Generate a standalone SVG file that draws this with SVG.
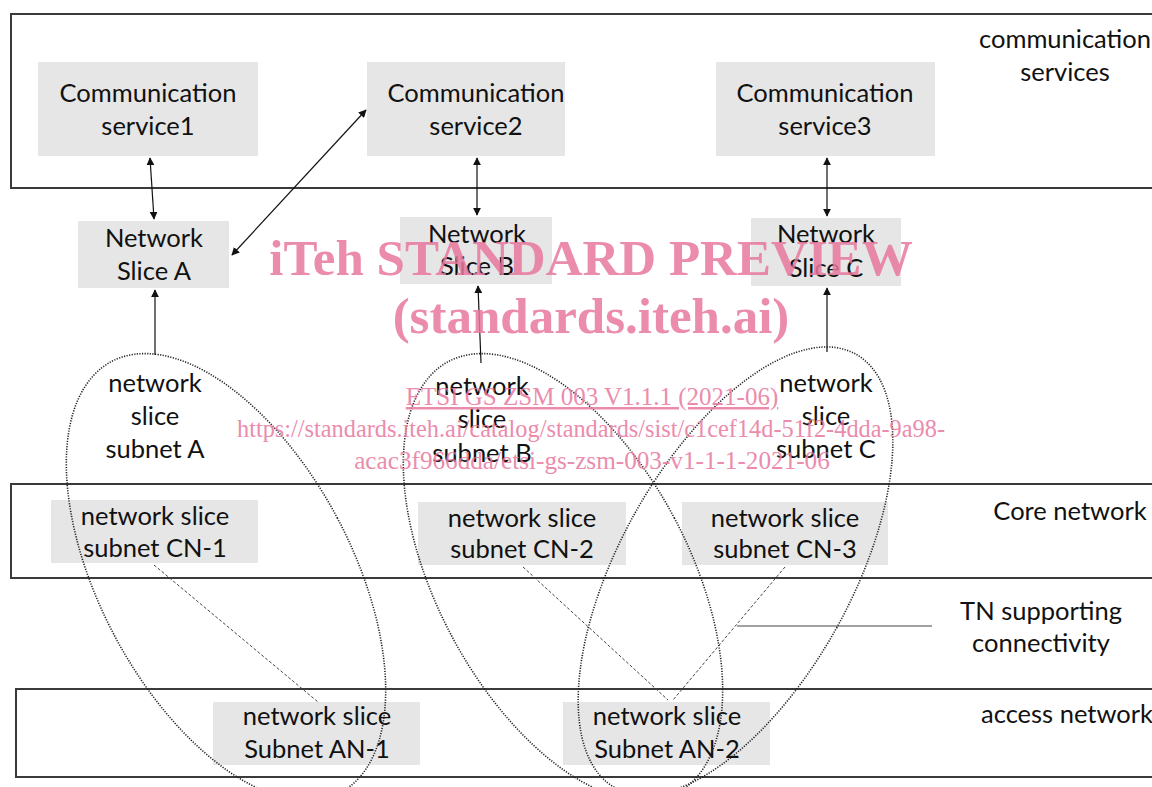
<svg xmlns="http://www.w3.org/2000/svg" width="1152" height="787" viewBox="0 0 1152 787">
<defs>
<marker id="ah" viewBox="0 0 10 10" refX="9" refY="5" markerWidth="8" markerHeight="8" markerUnits="userSpaceOnUse" orient="auto-start-reverse">
<path d="M0,0 L10,5 L0,10 z" fill="#111"/>
</marker>
<style>
.band{fill:none;stroke:#3a3a3a;stroke-width:2}
.box{fill:#e6e6e6}
.t{font-family:Lato,"Open Sans",sans-serif;font-size:25.5px;fill:#111;text-anchor:middle}
.ar{stroke:#111;stroke-width:1.2;fill:none}
.ell{fill:none;stroke:#222;stroke-width:1.6;stroke-dasharray:1.2 1.4}
.dl{stroke:#444;stroke-width:1;stroke-dasharray:3 2;fill:none}
.wm{font-family:"Liberation Serif","Times New Roman",serif;fill:#e8789e;opacity:0.85;text-anchor:middle}
</style>
</defs>
<rect width="1152" height="787" fill="#fff"/>

<g id="layers">
<rect class="band" x="11" y="14" width="1160" height="174"/>
<rect class="band" x="11" y="484" width="1160" height="94"/>
<rect class="band" x="16" y="689" width="1160" height="88"/>
<text class="t" x="1065" y="48">communication</text>
<text class="t" x="1065" y="81">services</text>
<text class="t" x="1070" y="520">Core network</text>
<text class="t" x="1041" y="620">TN supporting</text>
<text class="t" x="1041" y="652">connectivity</text>
<text class="t" x="1067" y="723">access network</text>
</g>

<g id="cs1"><rect class="box" x="38" y="62" width="220" height="94"/><text class="t" x="148" y="102">Communication</text><text class="t" x="148" y="135">service1</text></g>
<g id="cs2"><rect class="box" x="367" y="62" width="198" height="94"/><text class="t" x="476" y="102">Communication</text><text class="t" x="476" y="135">service2</text></g>
<g id="cs3"><rect class="box" x="716" y="62" width="219" height="94"/><text class="t" x="825" y="102">Communication</text><text class="t" x="825" y="135">service3</text></g>

<g id="nsA"><rect class="box" x="78" y="221" width="151" height="67"/><text class="t" x="154" y="247">Network</text><text class="t" x="154" y="280">Slice A</text></g>
<g id="nsB"><rect class="box" x="400" y="217" width="152" height="67"/><text class="t" x="477" y="243">Network</text><text class="t" x="477" y="275">Slice B</text></g>
<g id="nsC"><rect class="box" x="751" y="218" width="150" height="68"/><text class="t" x="826" y="243">Network</text><text class="t" x="826" y="277">Slice C</text></g>

<g id="subA"><text class="t" x="155" y="392">network</text><text class="t" x="155" y="425">slice</text><text class="t" x="155" y="458">subnet A</text></g>
<g id="subB"><text class="t" x="482" y="395">network</text><text class="t" x="482" y="428">slice</text><text class="t" x="482" y="462">subnet B</text></g>
<g id="subC"><text class="t" x="826" y="392">network</text><text class="t" x="826" y="425">slice</text><text class="t" x="826" y="458">subnet C</text></g>

<g id="cn1"><rect class="box" x="51" y="500" width="207" height="63"/><text class="t" x="155" y="525">network slice</text><text class="t" x="155" y="557">subnet CN-1</text></g>
<g id="cn2"><rect class="box" x="418" y="502" width="208" height="63"/><text class="t" x="522" y="527">network slice</text><text class="t" x="522" y="558">subnet CN-2</text></g>
<g id="cn3"><rect class="box" x="682" y="502" width="206" height="63"/><text class="t" x="785" y="527">network slice</text><text class="t" x="785" y="558">subnet CN-3</text></g>
<g id="an1"><rect class="box" x="213" y="702" width="207" height="63"/><text class="t" x="317" y="725">network slice</text><text class="t" x="317" y="758">Subnet AN-1</text></g>
<g id="an2"><rect class="box" x="563" y="702" width="207" height="63"/><text class="t" x="667" y="725">network slice</text><text class="t" x="667" y="758">Subnet AN-2</text></g>

<g id="connectors">
<line class="ar" x1="150" y1="158" x2="154" y2="219" marker-start="url(#ah)" marker-end="url(#ah)"/>
<line class="ar" x1="232" y1="255" x2="366" y2="110" marker-start="url(#ah)" marker-end="url(#ah)"/>
<line class="ar" x1="477" y1="158" x2="477" y2="215" marker-start="url(#ah)" marker-end="url(#ah)"/>
<line class="ar" x1="827" y1="158" x2="827" y2="216" marker-start="url(#ah)" marker-end="url(#ah)"/>
<line class="ar" x1="155" y1="355" x2="155" y2="290" marker-end="url(#ah)"/>
<line class="ar" x1="481" y1="363" x2="478" y2="286" marker-end="url(#ah)"/>
<line class="ar" x1="827" y1="352" x2="827" y2="288" marker-end="url(#ah)"/>
<line class="dl" x1="154" y1="565" x2="318" y2="702"/>
<line class="dl" x1="523" y1="567" x2="668" y2="700"/>
<line class="dl" x1="785" y1="567" x2="673" y2="700"/>
<line stroke="#444" stroke-width="1" x1="737" y1="626" x2="932" y2="626"/>
<ellipse class="ell" cx="226" cy="577" rx="126" ry="244" transform="rotate(-28 226 577)"/>
<ellipse class="ell" cx="563" cy="577" rx="126" ry="244" transform="rotate(-28 563 577)"/>
<ellipse class="ell" cx="735.5" cy="571" rx="116" ry="248" transform="rotate(29 735.5 571)"/>
</g>

<g id="watermark">
<text class="wm" x="591" y="275" font-size="51" font-weight="bold">iTeh STANDARD PREVIEW</text>
<text class="wm" x="591" y="333" font-size="51" font-weight="bold">(standards.iteh.ai)</text>
<text class="wm" x="592" y="405" font-size="25" text-decoration="underline">ETSI GS ZSM 003 V1.1.1 (2021-06)</text>
<text class="wm" x="591" y="437" font-size="24.5" textLength="708" lengthAdjust="spacingAndGlyphs">https://standards.iteh.ai/catalog/standards/sist/c1cef14d-51f2-4dda-9a98-</text>
<text class="wm" x="592" y="469" font-size="25.2">acac3f966dda/etsi-gs-zsm-003-v1-1-1-2021-06</text>
</g>
</svg>
